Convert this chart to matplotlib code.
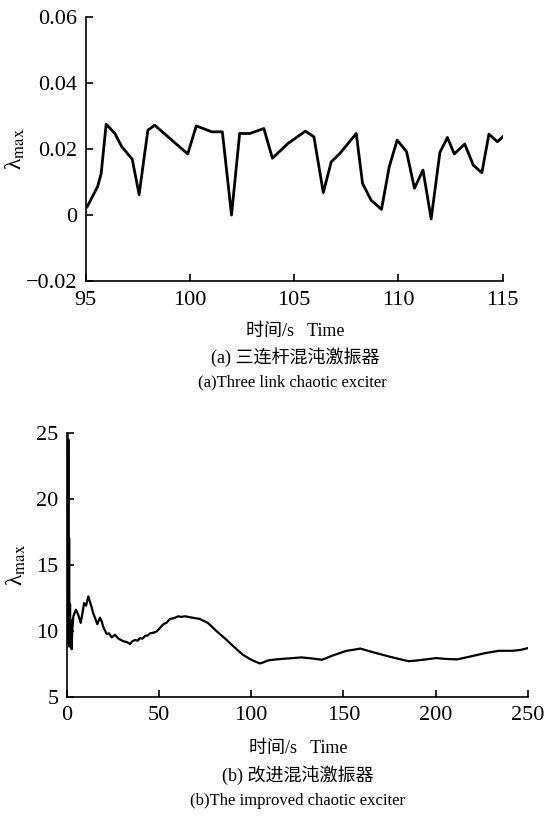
import matplotlib
matplotlib.use("Agg")
import matplotlib.pyplot as plt
from matplotlib.ticker import FuncFormatter

plt.rcParams['font.family'] = ['Liberation Serif', 'Noto Sans CJK SC']
plt.rcParams['mathtext.fontset'] = 'stix'
plt.rcParams['axes.unicode_minus'] = True

# (a) three link chaotic exciter, t = 95..115 s
time_a = [95.08, 95.58, 95.75, 95.99, 96.41, 96.74, 97.24, 97.57, 97.99, 98.32,
          99.90, 100.31, 101.06, 101.56, 102.00, 102.39, 102.88, 103.55, 103.96,
          104.71, 105.54, 105.95, 106.40, 106.78, 107.20, 107.98, 108.28, 108.69,
          109.19, 109.56, 109.94, 110.39, 110.77, 111.18, 111.57, 111.99, 112.35,
          112.68, 113.18, 113.59, 114.00, 114.34, 114.75, 115.00]
lam_a = [0.0025, 0.0086, 0.0125, 0.0275, 0.0247, 0.0207, 0.0169, 0.0062, 0.0257, 0.0272,
         0.0185, 0.0270, 0.0252, 0.0252, 0.0000, 0.0247, 0.0247, 0.0262, 0.0172,
         0.0217, 0.0254, 0.0237, 0.0068, 0.0161, 0.0187, 0.0247, 0.0096, 0.0045,
         0.0017, 0.0146, 0.0227, 0.0192, 0.0081, 0.0136, -0.0012, 0.0190, 0.0235,
         0.0185, 0.0215, 0.0151, 0.0128, 0.0245, 0.0222, 0.0237]

# (b) improved chaotic exciter, t = 0..250 s
time_b = [0.0, 0.3, 0.6, 0.9, 1.1, 1.3, 1.5, 1.8, 2.1, 2.4, 2.7, 3.0, 3.6, 5.0, 6.3,
          7.6, 8.5, 9.4, 10.5, 11.7, 12.6, 13.5, 14.4, 15.3, 16.6, 18.0, 19.0, 19.8,
          21.7, 23.0, 24.4, 26.2, 28.0, 29.5, 30.7, 32.5, 34.3, 35.5, 37.0, 38.5,
          39.7, 41.0, 42.4, 44.0, 45.1, 47.0, 48.8, 52.4, 54.0, 56.0, 58.0, 60.5,
          62.0, 64.0, 66.0, 67.8, 72.0, 76.5, 81.0, 85.9, 90.5, 95.3, 100.0, 104.7,
          106.5, 109.4, 113.0, 117.8, 122.0, 127.2, 133.0, 138.4, 144.1, 151.6,
          155.0, 159.1, 166.6, 176.0, 185.3, 190.0, 194.7, 200.3, 205.0, 211.6,
          217.2, 226.6, 234.1, 241.6, 246.0, 251.0]
lam_b = [9.0, 25.0, 9.0, 24.5, 9.5, 17.0, 8.8, 12.0, 9.0, 10.8, 8.6, 10.0, 11.1, 11.6, 11.2,
         10.6, 11.3, 12.1, 11.9, 12.6, 12.2, 11.8, 11.3, 11.0, 10.5, 11.0, 10.7, 10.3,
         9.75, 9.8, 9.5, 9.7, 9.4, 9.3, 9.2, 9.15, 9.0, 9.2, 9.3, 9.25,
         9.45, 9.4, 9.6, 9.65, 9.8, 9.85, 9.95, 10.5, 10.6, 10.9, 10.95, 11.1,
         11.05, 11.1, 11.05, 11.0, 10.9, 10.6, 10.0, 9.4, 8.8, 8.2, 7.8, 7.52,
         7.6, 7.76, 7.82, 7.88, 7.92, 7.98, 7.9, 7.8, 8.12, 8.48,
         8.55, 8.65, 8.35, 8.0, 7.69, 7.75, 7.83, 7.93, 7.87, 7.83,
         8.0, 8.3, 8.48, 8.48, 8.55, 8.72]

xticks_a = [95, 100, 105, 110, 115]
yticks_a = [-0.02, 0, 0.02, 0.04, 0.06]
xticks_b = [0, 50, 100, 150, 200, 250]
yticks_b = [5, 10, 15, 20, 25]

W, H = 544, 818
fig = plt.figure(figsize=(W / 100, H / 100), dpi=100)


def box(x0, y0, x1, y1):
    # pixel box -> figure fraction
    return [x0 / W, 1 - y1 / H, (x1 - x0) / W, (y1 - y0) / H]


def style(ax):
    for s in ['top', 'right']:
        ax.spines[s].set_visible(False)
    for s in ['left', 'bottom']:
        ax.spines[s].set_linewidth(1.2)
    ax.tick_params(direction='in', length=5, width=1.2, labelsize=16)
    ax.tick_params(axis='x', pad=7)
    ax.tick_params(axis='y', pad=6)


def fmt_a(v, pos):
    if abs(v) < 1e-9:
        return '0'
    return ('%.2f' % v).replace('-', '\u2212')


ax1 = fig.add_axes(box(85.5, 17, 502.7, 281))
ax1.plot(time_a, lam_a, color='black', lw=2.0)
ax1.set_xlim(95, 115)
ax1.set_ylim(-0.02, 0.06)
ax1.set_xticks(xticks_a)
ax1.set_yticks(yticks_a)
ax1.yaxis.set_major_formatter(FuncFormatter(fmt_a))
style(ax1)

ax2 = fig.add_axes(box(66.7, 433, 528, 696.7))
ax2.plot(time_b, lam_b, color='black', lw=1.6)
ax2.set_xlim(0, 250)
ax2.set_ylim(5, 25)
ax2.set_xticks(xticks_b)
ax2.set_yticks(yticks_b)
style(ax2)

ylab = 'λ$_{\\rm max}$'
fig.text(15 / W, 1 - 149 / H, ylab, rotation=90, fontsize=17,
         ha='center', va='center')
fig.text(16 / W, 1 - 565 / H, ylab, rotation=90, fontsize=17,
         ha='center', va='center')

cap = dict(ha='center', va='center', fontsize=13)
eng = dict(ha='center', va='center', fontsize=12)
fig.text(295 / W, 1 - 331 / H, '时间/s   Time', **cap)
fig.text(295 / W, 1 - 357 / H, '(a) 三连杆混沌激振器', **cap)
fig.text(292 / W, 1 - 382 / H, '(a)Three link chaotic exciter', **eng)
fig.text(298 / W, 1 - 749 / H, '时间/s   Time', **cap)
fig.text(298 / W, 1 - 775 / H, '(b) 改进混沌激振器', **cap)
fig.text(298 / W, 1 - 801 / H, '(b)The improved chaotic exciter', **eng)

fig.savefig('out.png', dpi=100)
